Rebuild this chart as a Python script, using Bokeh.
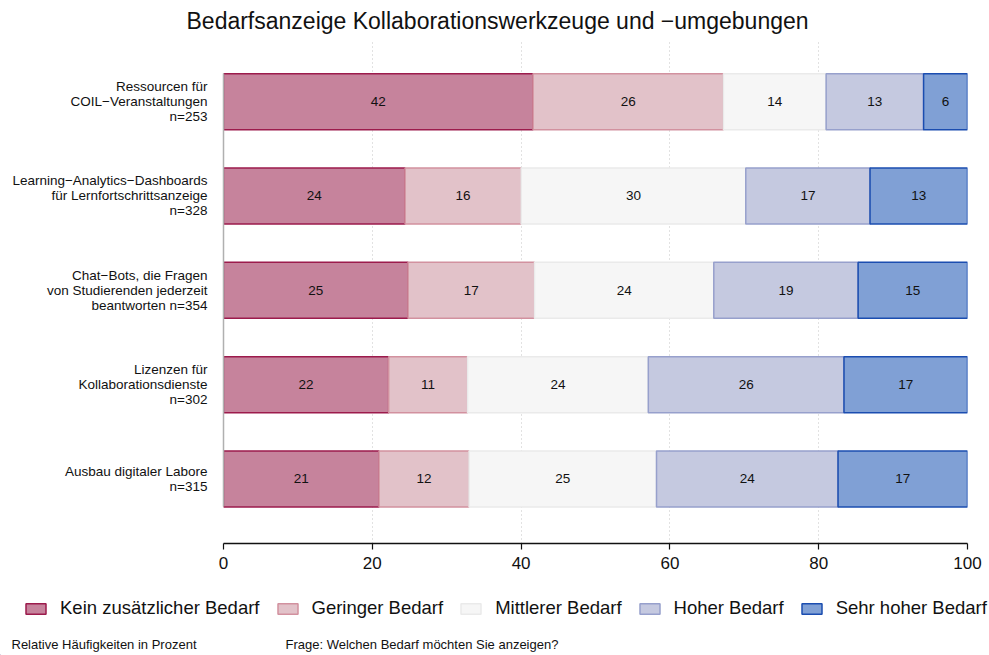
import numpy as np
from bokeh.plotting import figure
from bokeh.layouts import column
from bokeh.models import (ColumnDataSource, Legend, LegendItem, FixedTicker, Range1d)
from bokeh.embed import file_html
from bokeh.resources import INLINE
from bokeh.core.properties import value

# ---------------- data ----------------
title_text = "Bedarfsanzeige Kollaborationswerkzeuge und \u2212umgebungen"
categories = [
    "Ressourcen f\u00fcr\nCOIL\u2212Veranstaltungen\nn=253",
    "Learning\u2212Analytics\u2212Dashboards\nf\u00fcr Lernfortschrittsanzeige\nn=328",
    "Chat\u2212Bots, die Fragen\nvon Studierenden jederzeit\nbeantworten n=354",
    "Lizenzen f\u00fcr\nKollaborationsdienste\nn=302",
    "Ausbau digitaler Labore\nn=315",
]
levels = ["Kein zus\u00e4tzlicher Bedarf", "Geringer Bedarf", "Mittlerer Bedarf",
          "Hoher Bedarf", "Sehr hoher Bedarf"]
kein = [41.6, 24.4, 24.8, 22.2, 20.9]
geringer = [25.6, 15.6, 17.0, 10.6, 12.1]
mittlerer = [13.8, 30.2, 24.1, 24.3, 25.2]
hoher = [13.1, 16.7, 19.4, 26.3, 24.4]
sehr_hoher = [5.9, 13.1, 14.7, 16.6, 17.4]
x_ticks = [0, 20, 40, 60, 80, 100]
notes = ["Relative H\u00e4ufigkeiten in Prozent",
         "Frage: Welchen Bedarf m\u00f6chten Sie anzeigen?"]

# ---------------- style ----------------
FONT = "Liberation Sans"
TXT = "#111111"
fills = ["#C6839C", "#E2C2C9", "#F6F6F6", "#C5C9E0", "#80A0D5"]
lines = ["#9C1B4C", "#D2919F", "#EAEAEA", "#97A0CC", "#1B4DB0"]
BAR_H = 0.5935
W = 989
H_MAIN, H_BOT = 585, 70

series = [kein, geringer, mittlerer, hoher, sehr_hoher]
n = len(categories)
ypos = list(range(n, 0, -1))  # top category at highest y


def no_frame_align(fig):
    try:
        fig.frame_align = False
    except Exception:
        pass


# ---------------- main chart ----------------
p = figure(width=W, height=H_MAIN,
           x_range=Range1d(0, 100), y_range=Range1d(0.316, 5.659),
           output_backend="svg", toolbar_location=None,
           min_border_left=223, min_border_right=22,
           min_border_top=39, min_border_bottom=42)
p.outline_line_color = None
no_frame_align(p)

p.title.text = title_text
p.title.align = "left"
p.title.offset = -37
p.title.vertical_align = "middle"
p.title.standoff = 10
p.title.text_font = FONT
p.title.text_font_size = "23px"
p.title.text_font_style = "normal"
p.title.text_color = TXT

p.ygrid.visible = False
p.xgrid.ticker = FixedTicker(ticks=x_ticks)
p.xgrid.grid_line_color = "#C4C4C4"
p.xgrid.grid_line_dash = "1 3"
p.xgrid.grid_line_width = 1

p.xaxis.ticker = FixedTicker(ticks=x_ticks)
p.xaxis.axis_line_color = TXT
p.xaxis.axis_line_width = 1.4
p.xaxis.major_tick_line_color = TXT
p.xaxis.major_tick_line_width = 1.2
p.xaxis.major_tick_out = 6
p.xaxis.major_tick_in = 0
p.xaxis.minor_tick_line_color = None
p.xaxis.major_label_text_font = FONT
p.xaxis.major_label_text_font_size = "17px"
p.xaxis.major_label_text_color = TXT
p.xaxis.major_label_standoff = 7

p.yaxis.ticker = FixedTicker(ticks=ypos)
p.yaxis.major_label_overrides = {y: c for y, c in zip(ypos, categories)}
p.yaxis.major_label_text_font = FONT
p.yaxis.major_label_text_font_size = "13.5px"
p.yaxis.major_label_text_line_height = 1.0
p.yaxis.major_label_text_color = TXT
p.yaxis.major_label_standoff = 10
p.yaxis.major_tick_line_color = None
p.yaxis.minor_tick_line_color = None
p.yaxis.axis_line_color = "#B0B0B0"
p.yaxis.axis_line_width = 1.5
p.yaxis.bounds = (1 - BAR_H / 2, n + BAR_H / 2)

left = np.zeros(n)
for i, vals in enumerate(series):
    vals = np.array(vals, dtype=float)
    right = left + vals
    src = ColumnDataSource(dict(y=ypos, left=left, right=right,
                                xc=(left + right) / 2,
                                lab=[f"{v:.0f}" for v in vals]))
    p.hbar(y="y", left="left", right="right", height=BAR_H, source=src,
           fill_color=fills[i], line_color=lines[i], line_width=1.5)
    p.text(x="xc", y="y", text="lab", source=src, text_align="center",
           text_baseline="middle", text_font=value(FONT),
           text_font_size=value("13.5px"), text_color=TXT)
    left = right

# ---------------- legend + notes strip ----------------
pb = figure(width=W, height=H_BOT, x_range=Range1d(0, W), y_range=Range1d(0, H_BOT),
            output_backend="svg", toolbar_location=None,
            min_border_left=0, min_border_right=0, min_border_top=0, min_border_bottom=0)
pb.axis.visible = False
pb.grid.visible = False
pb.outline_line_color = None
no_frame_align(pb)

items = []
for i, lv in enumerate(levels):
    src = ColumnDataSource(dict(y=[-10], left=[-10], right=[-5]))
    r = pb.hbar(y="y", left="left", right="right", height=1, source=src,
                fill_color=fills[i], line_color=lines[i], line_width=1.5)
    items.append(LegendItem(label=lv, renderers=[r], index=0))
legend = Legend(items=items, orientation="horizontal", location=(23, 36),
                glyph_width=25, glyph_height=13, label_standoff=12, spacing=15,
                padding=0, margin=0, border_line_color=None,
                background_fill_alpha=0, label_text_font=FONT,
                label_text_font_size="18.5px", label_text_color=TXT)
pb.add_layout(legend)
pb.text(x=[11, 285], y=[H_BOT - 58.5, H_BOT - 58.5], text=notes,
        text_align="left", text_baseline="middle", text_font=value(FONT),
        text_font_size=value("13px"), text_color=TXT)

layout = column(p, pb, spacing=0)
open("out.html", "w").write(file_html(layout, INLINE))
